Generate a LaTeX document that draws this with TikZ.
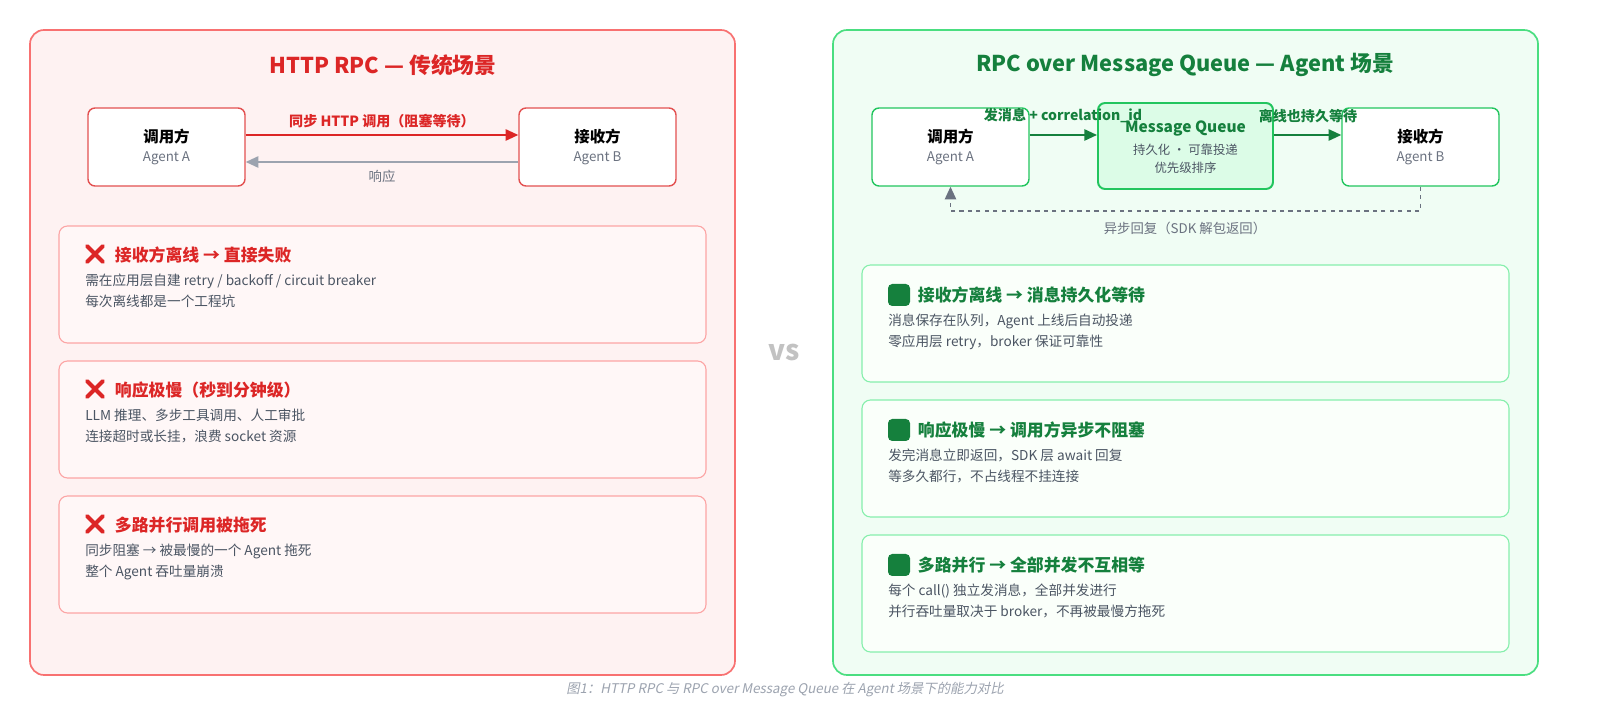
\documentclass[tikz,border=0pt]{standalone}
\usepackage{fontspec}
\setmainfont{Noto Sans CJK SC}
\newfontfamily\capfont[FakeSlant=0.2]{Noto Sans CJK SC}
\usetikzlibrary{arrows.meta}
\definecolor{redtxt}{HTML}{DC2626}
\definecolor{redline}{HTML}{F87171}
\definecolor{redbg}{HTML}{FEF2F2}
\definecolor{redcard}{HTML}{FCA5A5}
\definecolor{grntxt}{HTML}{15803D}
\definecolor{grnline}{HTML}{4ADE80}
\definecolor{grnbox}{HTML}{22C55E}
\definecolor{grnbg}{HTML}{F0FDF4}
\definecolor{grncard}{HTML}{86EFAC}
\definecolor{mqbg}{HTML}{DCFCE7}
\definecolor{bodytxt}{HTML}{4B5563}
\definecolor{subtxt}{HTML}{6B7280}
\definecolor{retline}{HTML}{9CA3AF}
\tikzset{
  panel/.style={draw, line width=1.2pt, rounded corners=10pt},
  agent/.style={draw, fill=white, line width=1pt, rounded corners=5pt, minimum width=157*0.025cm, minimum height=78*0.025cm, align=center},
  card/.style={draw, line width=0.8pt, rounded corners=6pt},
  cardtitle/.style={anchor=west, font=\fontsize{12}{14}\selectfont\bfseries},
  cardbody/.style={anchor=north west, align=left, text=bodytxt, font=\fontsize{9.7}{15}\selectfont, inner sep=0pt},
  lbl/.style={font=\fontsize{10}{12}\selectfont\bfseries}
}
\newcommand{\agentlabel}[2]{{\fontsize{11}{13}\selectfont\bfseries #1}\\[2pt]{\fontsize{9.5}{11}\selectfont\color{subtxt}#2}}
\begin{document}
\begin{tikzpicture}[x=0.025cm, y=-0.025cm]
  \useasboundingbox (0,0) rectangle (1600,720);
  \fill[white] (0,0) rectangle (1600,720);

  % left panel
  \draw[panel, draw=redline, fill=redbg] (30,30) rectangle (735,675);
  \node[text=redtxt, font=\fontsize{15.5}{18}\selectfont\bfseries] (ltitle) at (383,65) {HTTP RPC — 传统场景};
  \node[agent, draw=redtxt!80] (lcaller) at (166.5,147) {\agentlabel{调用方}{Agent A}};
  \node[agent, draw=redtxt!80] (lrecv) at (597.5,147) {\agentlabel{接收方}{Agent B}};
  \draw[redtxt, line width=1.3pt, -{Triangle[length=9pt,width=8pt]}] ([yshift=12*0.025cm]lcaller.east) -- node[above, lbl, text=redtxt, yshift=1pt] {同步 HTTP 调用（阻塞等待）} ([yshift=12*0.025cm]lrecv.west);
  \draw[retline, line width=1.3pt, -{Triangle[length=9pt,width=8pt]}] ([yshift=-15*0.025cm]lrecv.west) -- node[below, text=subtxt, font=\fontsize{9.5}{11}\selectfont, yshift=-2pt] {响应} ([yshift=-15*0.025cm]lcaller.east);

  \foreach \y/\ttl/\bodyA/\bodyB [count=\i] in {
    226/{接收方离线 → 直接失败}/{需在应用层自建 retry / backoff / circuit breaker}/{每次离线都是一个工程坑},
    361/{响应极慢（秒到分钟级）}/{LLM 推理、多步工具调用、人工审批}/{连接超时或长挂，浪费 socket 资源},
    496/{多路并行调用被拖死}/{同步阻塞 → 被最慢的一个 Agent 拖死}/{整个 Agent 吞吐量崩溃}} {
    \draw[card, draw=redcard, fill=red!3] (59,\y) rectangle (706,\y+117);
    \draw[redtxt, line width=2.8pt, line cap=round] (87,\y+20) -- (103,\y+36) (103,\y+20) -- (87,\y+36);
    \node[cardtitle, text=redtxt] (lcard\i) at (110,\y+29) {\ttl};
    \node[cardbody] (lbody\i) at (85,\y+48) {\bodyA\\\bodyB};
  }

  \node[text=black!20!gray!40, font=\fontsize{20}{24}\selectfont\bfseries] (vs) at (784,353) {vs};

  % right panel
  \draw[panel, draw=grnline, fill=grnbg] (833,30) rectangle (1538,675);
  \node[text=grntxt, font=\fontsize{15.5}{18}\selectfont\bfseries] (rtitle) at (1185,65) {RPC over Message Queue — Agent 场景};
  \node[agent, draw=grnbox] (rcaller) at (950.5,147) {\agentlabel{调用方}{Agent A}};
  \node[agent, draw=grnbox, fill=mqbg, line width=1.4pt, minimum width=175*0.025cm, minimum height=86*0.025cm] (mq) at (1185.5,146) {};
  \node[text=grntxt, font=\fontsize{11}{13}\selectfont\bfseries] (mqname) at (1185.5,128) {Message Queue};
  \node[text=bodytxt, font=\fontsize{8.8}{12.5}\selectfont, align=center] (mqnote) at (1185.5,159) {持久化 · 可靠投递\\优先级排序};
  \node[agent, draw=grnbox] (rrecv) at (1420.5,147) {\agentlabel{接收方}{Agent B}};
  \draw[grntxt, line width=1.3pt, -{Triangle[length=9pt,width=8pt]}] ([yshift=12*0.025cm]rcaller.east) -- ([yshift=11*0.025cm]mq.west);
  \node[lbl, text=grntxt] (send) at (1063,116) {发消息 + correlation\_id};
  \draw[grntxt, line width=1.3pt, -{Triangle[length=9pt,width=8pt]}] ([yshift=11*0.025cm]mq.east) -- ([yshift=12*0.025cm]rrecv.west);
  \node[lbl, text=grntxt] (persist) at (1308,116) {离线也持久等待};
  \draw[subtxt, line width=1.2pt, dashed, -{Triangle[length=9pt,width=8pt]}] (rrecv.south) -- ++(0,24) -| (rcaller.south);
  \node[text=subtxt, font=\fontsize{9.5}{11}\selectfont] (reply) at (1185,228) {异步回复（SDK 解包返回）};

  \foreach \y/\ttl/\bodyA/\bodyB [count=\i] in {
    265/{接收方离线 → 消息持久化等待}/{消息保存在队列，Agent 上线后自动投递}/{零应用层 retry，broker 保证可靠性},
    400/{响应极慢 → 调用方异步不阻塞}/{发完消息立即返回，SDK 层 await 回复}/{等多久都行，不占线程不挂连接},
    535/{多路并行 → 全部并发不互相等}/{每个 call() 独立发消息，全部并发进行}/{并行吞吐量取决于 broker，不再被最慢方拖死}} {
    \draw[card, draw=grncard, fill=green!2] (862,\y) rectangle (1509,\y+117);
    \fill[grntxt, rounded corners=3pt] (888,\y+19) rectangle (910,\y+41);
    \node[cardtitle, text=grntxt] (rcard\i) at (913,\y+30) {\ttl};
    \node[cardbody] (rbody\i) at (888,\y+49) {\bodyA\\\bodyB};
  }

  \node[text=retline, font=\fontsize{9.5}{11}\capfont] (caption) at (785,690) {图1：HTTP RPC 与 RPC over Message Queue 在 Agent 场景下的能力对比};
\end{tikzpicture}
\end{document}
